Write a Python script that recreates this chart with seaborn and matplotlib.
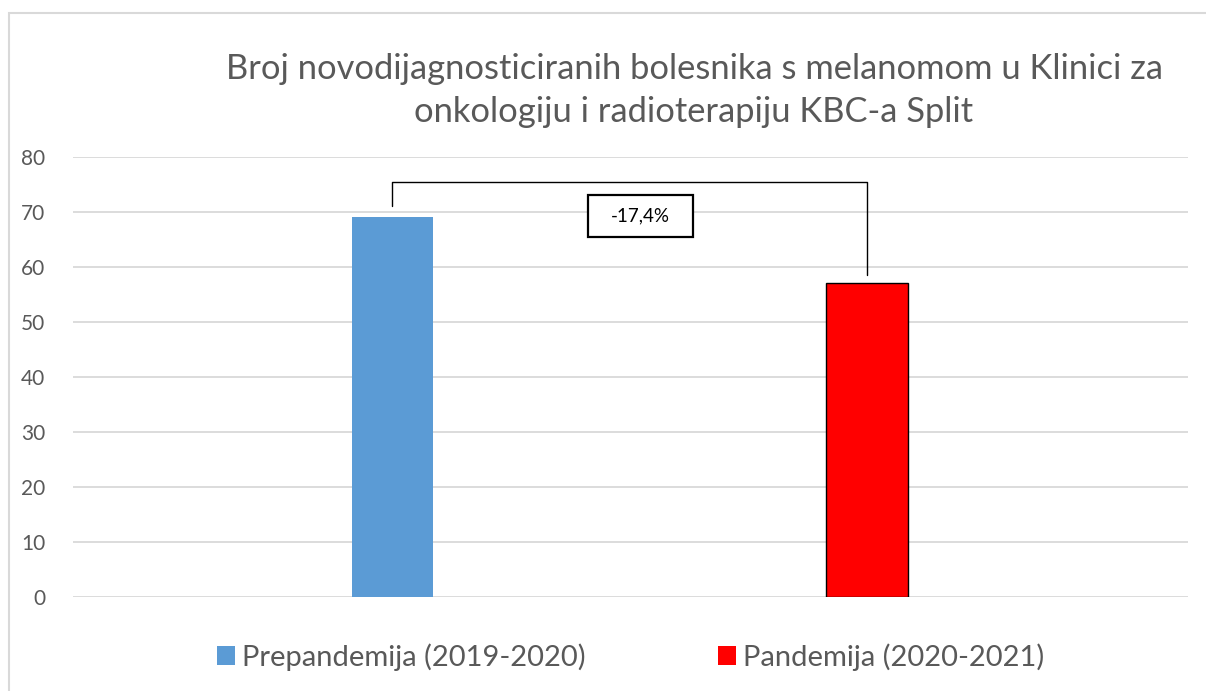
import matplotlib
matplotlib.use("Agg")
import matplotlib.pyplot as plt
import seaborn as sns
import pandas as pd
from matplotlib.patches import Patch, Rectangle

# Data
periods = ["Prepandemija (2019-2020)", "Pandemija (2020-2021)"]
patients = [69, 57]
colors = ["#5b9bd5", "#ff0000"]
edges = ["none", "#000000"]
yticks = [0, 10, 20, 30, 40, 50, 60, 70, 80]

title = "Broj novodijagnosticiranih bolesnika s melanomom u Klinici za\nonkologiju i radioterapiju KBC-a Split"
change = (patients[1] - patients[0]) / patients[0] * 100
change_label = f"{change:.1f}%".replace(".", ",")

sns.set_style("white")
plt.rcParams["font.family"] = ["Lato", "DejaVu Sans"]
gray = "#595959"
grid = "#d9d9d9"

df = pd.DataFrame({"Period": periods, "Bolesnici": patients})

fig = plt.figure(figsize=(12.06, 6.91), dpi=100)
ax = fig.add_axes([0.0605, 0.136, 0.9245, 0.637])

sns.barplot(data=df, x="Period", y="Bolesnici", hue="Period",
            palette=colors, saturation=1, width=0.172, legend=False,
            ax=ax, zorder=3)
for bar, ec in zip(ax.patches, edges):
    if ec != "none":
        bar.set_edgecolor(ec)
        bar.set_linewidth(1.0)
    else:
        bar.set_linewidth(0)

ax.set_xlim(-0.673, 1.676)
ax.set_ylim(0, 80)
ax.set_yticks(yticks)
ax.yaxis.grid(True, color=grid, linewidth=1.3, zorder=0)
ax.set_axisbelow(True)
ax.tick_params(axis="y", length=0, labelsize=15, labelcolor=gray, pad=20)
ax.set_xticks([])
ax.set_xlabel("")
ax.set_ylabel("")
for s in ax.spines.values():
    s.set_visible(False)

# bracket between bars with the change label
ax.plot([0, 0, 1, 1], [71, 75.5, 75.5, 58.5], color="#000000", linewidth=1.0,
        clip_on=False, zorder=4)
ax.add_patch(Rectangle((0.412, 65.45), 0.221, 7.65, facecolor="white",
                       edgecolor="#000000", linewidth=1.6, zorder=5))
ax.text(0.5225, 69.3, change_label, ha="center", va="center", fontsize=13.5,
        color="#000000", zorder=6)

fig.text(0.5755, 0.869, title, ha="center", va="center", fontsize=24.8,
         color=gray, linespacing=1.42)

handles = [Patch(facecolor=c, edgecolor="none") for c in colors]
fig.legend(handles, periods, loc="center", bbox_to_anchor=(0.523, 0.049),
           ncol=2, frameon=False, fontsize=21, labelcolor=gray,
           handlelength=0.6, handleheight=0.6, handletextpad=0.25,
           columnspacing=4.55)

# outer chart border
fig.add_artist(Rectangle((8.5 / 1206, -0.1), 1.2, 1 - 13 / 691 + 0.1,
                         transform=fig.transFigure, fill=False,
                         edgecolor=grid, linewidth=1.5))

fig.savefig("out.png", dpi=100)
